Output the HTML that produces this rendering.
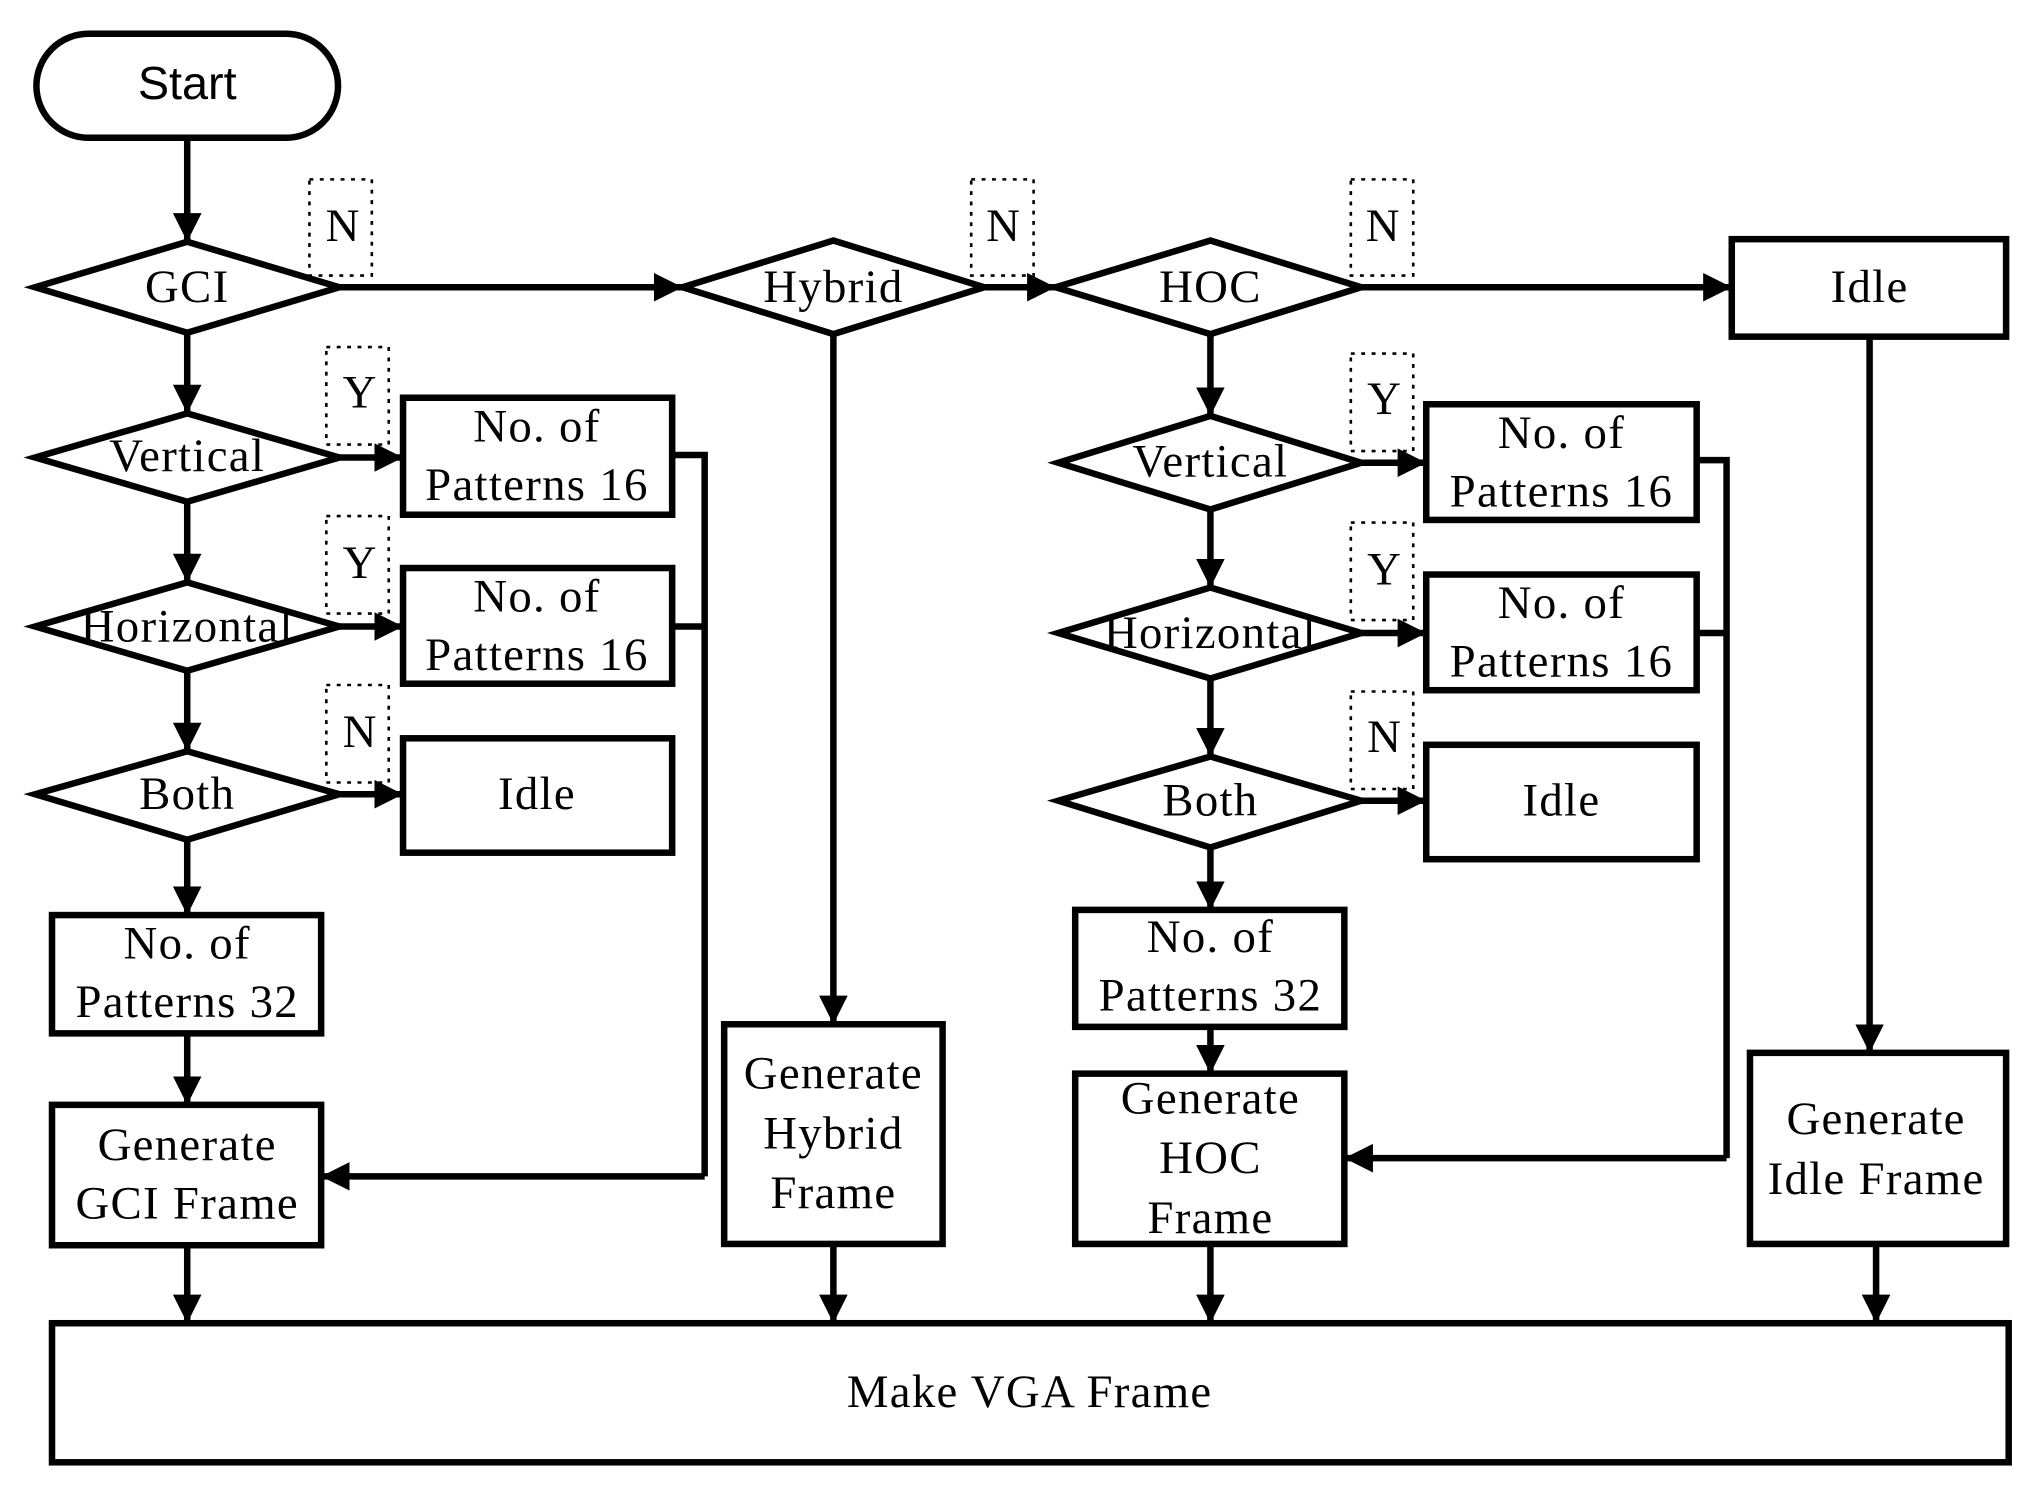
<!DOCTYPE html>
<html><head><meta charset="utf-8"><style>
html,body{margin:0;padding:0;background:#fff;}
svg{display:block;}
text{font-family:"Liberation Serif",serif;font-size:36px;letter-spacing:1px;fill:#000;text-anchor:middle;dominant-baseline:central;}
</style></head><body>
<svg width="2036" height="1500" viewBox="0 0 1566 1154" preserveAspectRatio="none">
<defs>
<marker id="a" markerUnits="userSpaceOnUse" markerWidth="24" markerHeight="24" refX="22" refY="11" orient="auto">
<path d="M0,0 L22,11 L0,22 Z" fill="#000"/>
</marker>
</defs>
<g stroke="#000" stroke-width="5" fill="none">
<rect x="28" y="26" width="232" height="80" rx="40"/>
<polygon points="27,221 144,186 261,221 144,256"/>
<polygon points="525,221 641,185 757,221 641,257"/>
<polygon points="812,221 931,185 1047,221 931,257"/>
<polygon points="27,352 144,318 261,352 144,386"/>
<polygon points="27,482 144,448 261,482 144,516"/>
<polygon points="27,611 144,578 261,611 144,646"/>
<polygon points="814,356 931,320 1047,356 931,392"/>
<polygon points="814,487 931,452 1047,487 931,522"/>
<polygon points="814,616 931,582 1047,616 931,652"/>
<rect x="1332" y="184" width="211" height="75"/>
<rect x="1346" y="810" width="197" height="147"/>
<rect x="557" y="788" width="168" height="169"/>
<rect x="310" y="306" width="207" height="90"/>
<rect x="310" y="437" width="207" height="89"/>
<rect x="310" y="568" width="207" height="88"/>
<rect x="40" y="704" width="207" height="91"/>
<rect x="40" y="850" width="207" height="108"/>
<rect x="1097" y="311" width="208" height="89"/>
<rect x="1097" y="442" width="208" height="89"/>
<rect x="1097" y="573" width="208" height="88"/>
<rect x="827" y="700" width="207" height="90"/>
<rect x="827" y="826" width="207" height="131"/>
<rect x="40" y="1018" width="1505" height="107"/>
<line x1="144" y1="106" x2="144" y2="186" marker-end="url(#a)"/>
<line x1="261" y1="221" x2="525" y2="221" marker-end="url(#a)"/>
<line x1="757" y1="221" x2="812" y2="221" marker-end="url(#a)"/>
<line x1="1047" y1="221" x2="1332" y2="221" marker-end="url(#a)"/>
<line x1="1438" y1="259" x2="1438" y2="810" marker-end="url(#a)"/>
<line x1="641" y1="257" x2="641" y2="788" marker-end="url(#a)"/>
<line x1="144" y1="256" x2="144" y2="318" marker-end="url(#a)"/>
<line x1="144" y1="386" x2="144" y2="448" marker-end="url(#a)"/>
<line x1="144" y1="516" x2="144" y2="578" marker-end="url(#a)"/>
<line x1="144" y1="646" x2="144" y2="704" marker-end="url(#a)"/>
<line x1="144" y1="795" x2="144" y2="850" marker-end="url(#a)"/>
<line x1="261" y1="352" x2="310" y2="352" marker-end="url(#a)"/>
<line x1="261" y1="482" x2="310" y2="482" marker-end="url(#a)"/>
<line x1="261" y1="611" x2="310" y2="611" marker-end="url(#a)"/>
<polyline points="517,350 542,350 542,905"/>
<line x1="517" y1="482" x2="542" y2="482"/>
<line x1="542" y1="905" x2="247" y2="905" marker-end="url(#a)"/>
<line x1="931" y1="257" x2="931" y2="320" marker-end="url(#a)"/>
<line x1="931" y1="392" x2="931" y2="452" marker-end="url(#a)"/>
<line x1="931" y1="522" x2="931" y2="582" marker-end="url(#a)"/>
<line x1="931" y1="652" x2="931" y2="700" marker-end="url(#a)"/>
<line x1="931" y1="790" x2="931" y2="826" marker-end="url(#a)"/>
<line x1="1047" y1="356" x2="1097" y2="356" marker-end="url(#a)"/>
<line x1="1047" y1="487" x2="1097" y2="487" marker-end="url(#a)"/>
<line x1="1047" y1="616" x2="1097" y2="616" marker-end="url(#a)"/>
<polyline points="1305,354 1328,354 1328,891"/>
<line x1="1305" y1="487" x2="1328" y2="487"/>
<line x1="1328" y1="891" x2="1034" y2="891" marker-end="url(#a)"/>
<line x1="144" y1="958" x2="144" y2="1018" marker-end="url(#a)"/>
<line x1="641" y1="957" x2="641" y2="1018" marker-end="url(#a)"/>
<line x1="931" y1="957" x2="931" y2="1018" marker-end="url(#a)"/>
<line x1="1443" y1="957" x2="1443" y2="1018" marker-end="url(#a)"/>
</g>
<g stroke="#000" stroke-width="2" stroke-dasharray="3,5" fill="none">
<rect x="238" y="138" width="48" height="74"/>
<rect x="747" y="138" width="48" height="74"/>
<rect x="1039" y="138" width="48" height="74"/>
<rect x="251" y="267" width="48" height="75"/>
<rect x="251" y="397" width="48" height="75"/>
<rect x="251" y="527" width="48" height="75"/>
<rect x="1039" y="272" width="48" height="75"/>
<rect x="1039" y="402" width="48" height="75"/>
<rect x="1039" y="532" width="48" height="75"/>
</g>
<text x="144" y="64" style="font-family:'Liberation Sans',sans-serif;font-size:36px;letter-spacing:0">Start</text>
<text x="264" y="174">N</text><text x="772" y="174">N</text><text x="1064" y="174">N</text>
<text x="277" y="302">Y</text><text x="277" y="433">Y</text><text x="277" y="563">N</text>
<text x="1065" y="307">Y</text><text x="1065" y="438">Y</text><text x="1065" y="567">N</text>
<text x="144" y="221">GCI</text>
<text x="641" y="221">Hybrid</text>
<text x="931" y="221">HOC</text>
<text x="1438" y="221">Idle</text>
<text x="144" y="351">Vertical</text>
<text x="144" y="482">Horizontal</text>
<text x="144" y="611">Both</text>
<text x="931" y="355">Vertical</text>
<text x="931" y="487">Horizontal</text>
<text x="931" y="616">Both</text>
<text x="413" y="328">No. of</text><text x="413" y="373">Patterns 16</text>
<text x="413" y="459">No. of</text><text x="413" y="504">Patterns 16</text>
<text x="413" y="611">Idle</text>
<text x="1201" y="333">No. of</text><text x="1201" y="378">Patterns 16</text>
<text x="1201" y="464">No. of</text><text x="1201" y="509">Patterns 16</text>
<text x="1201" y="616">Idle</text>
<text x="144" y="726">No. of</text><text x="144" y="771">Patterns 32</text>
<text x="931" y="721">No. of</text><text x="931" y="766">Patterns 32</text>
<text x="144" y="881">Generate</text><text x="144" y="926">GCI Frame</text>
<text x="641" y="826">Generate</text><text x="641" y="872">Hybrid</text><text x="641" y="918">Frame</text>
<text x="931" y="845">Generate</text><text x="931" y="891">HOC</text><text x="931" y="937">Frame</text>
<text x="1443" y="861">Generate</text><text x="1443" y="907">Idle Frame</text>
<text x="792" y="1071">Make VGA Frame</text>
</svg>
</body></html>
